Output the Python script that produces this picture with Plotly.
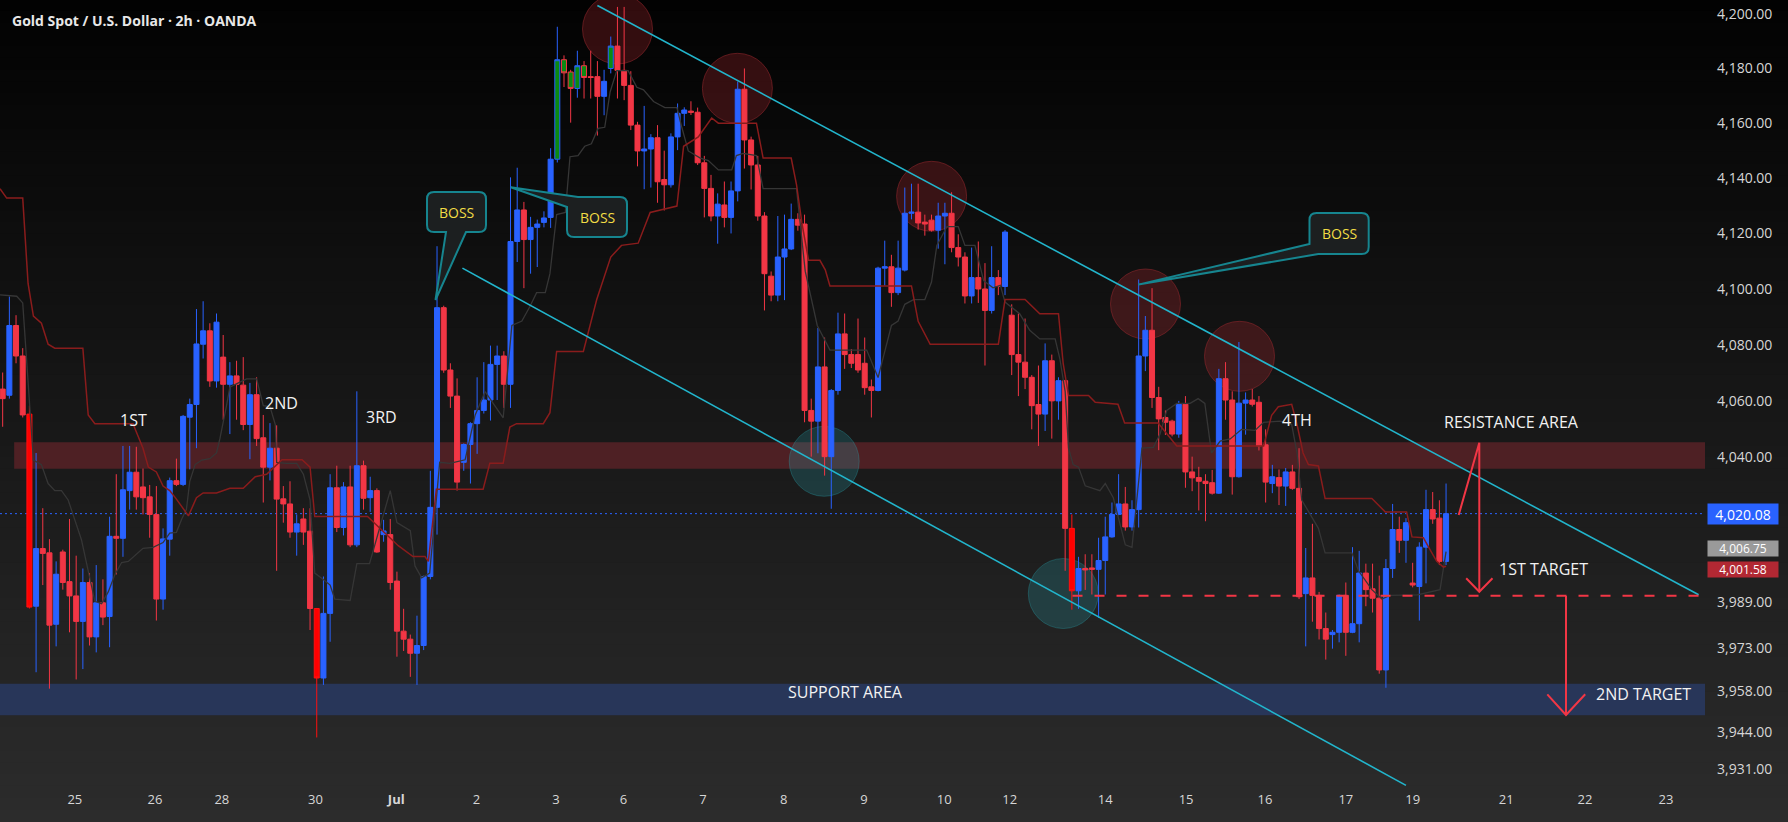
import math
import plotly.graph_objects as go

# ---------------- data ----------------
opens = [4064.2, 4062.0, 4086.9, 4076.0, 4055.3, 3987.6, 4007.8, 4006.3, 3981.3, 4006.6,
         3996.2, 3991.2, 3982.3, 3995.9, 3976.9, 3988.8, 3984.0, 4012.1, 4011.4, 4028.2,
         4034.7, 4029.5, 4026.0, 4019.8, 3990.1, 4011.1, 4031.7, 4030.4, 4054.2, 4058.7,
         4080.2, 4085.0, 4067.1, 4075.6, 4065.9, 4068.9, 4065.6, 4051.6, 4062.2, 4046.9,
         4036.5, 4043.2, 4025.3, 4023.5, 4013.6, 4018.2, 4013.9, 3986.8, 3962.6, 3985.1,
         4029.2, 4015.2, 4029.5, 4009.1, 4037.0, 4025.7, 4028.2, 4012.7, 4012.7, 3996.4,
         3978.9, 3976.1, 3971.2, 3973.9, 3998.0, 4022.3, 4093.3, 4071.0, 4061.7, 4038.2,
         4044.5, 4051.9, 4056.6, 4060.3, 4073.0, 4076.0, 4065.9, 4117.1, 4128.5, 4117.8,
         4122.2, 4124.0, 4125.8, 4146.9, 4183.2, 4178.7, 4172.7, 4181.0, 4177.0, 4177.0,
         4169.8, 4180.0, 4188.2, 4179.3, 4173.8, 4159.3, 4149.9, 4150.6, 4154.7, 4139.5,
         4137.6, 4155.0, 4163.6, 4164.4, 4164.0, 4145.6, 4136.3, 4126.3, 4130.3, 4125.8,
         4135.4, 4172.4, 4153.9, 4144.8, 4126.3, 4104.6, 4097.8, 4111.5, 4114.4, 4125.1,
         4123.4, 4056.6, 4052.8, 4072.1, 4040.2, 4063.7, 4083.9, 4076.5, 4076.5, 4073.4,
         4065.0, 4063.7, 4107.5, 4108.0, 4098.7, 4106.8, 4127.3, 4127.7, 4124.1, 4124.8,
         4121.2, 4126.3, 4127.3, 4114.9, 4111.5, 4097.5, 4104.1, 4100.0, 4092.3, 4104.1,
         4100.9, 4090.6, 4076.5, 4073.8, 4068.4, 4058.7, 4055.3, 4074.3, 4060.0, 4067.2,
         4014.9, 3993.0, 4000.8, 4001.0, 4000.5, 4003.6, 4011.9, 4019.8, 4023.5, 4015.4,
         4021.5, 4076.0, 4085.2, 4061.2, 4054.1, 4052.8, 4048.2, 4058.8, 4034.8, 4032.8,
         4031.5, 4031.0, 4027.3, 4067.9, 4060.3, 4033.1, 4059.2, 4060.3, 4059.5, 4044.4,
         4030.7, 4032.8, 4029.8, 4034.8, 4029.0, 3992.0, 3997.5, 3991.4, 3979.8, 3977.7,
         3978.5, 3991.4, 3978.5, 3981.5, 3999.2, 3993.7, 3990.4, 3965.4, 4000.8, 4014.5,
         4010.7, 3995.7, 3994.5, 4008.3, 4021.5, 4018.5, 4003.3]
highs = [4070.1, 4097.3, 4090.6, 4078.8, 4058.3, 4041.5, 4022.0, 4011.1, 4003.3, 4007.4,
         4018.2, 4005.3, 4000.8, 3999.2, 4002.0, 3997.0, 4019.0, 4034.0, 4044.0, 4044.0,
         4043.7, 4036.0, 4030.2, 4029.8, 4014.9, 4032.8, 4039.5, 4055.0, 4060.8, 4092.8,
         4095.6, 4087.7, 4091.2, 4083.5, 4073.8, 4074.3, 4075.6, 4066.4, 4068.4, 4055.0,
         4052.1, 4051.3, 4029.8, 4031.5, 4019.8, 4022.0, 4022.0, 3987.0, 3998.0, 4034.0,
         4037.0, 4031.2, 4037.0, 4063.4, 4038.8, 4033.1, 4029.0, 4017.9, 4018.2, 3999.7,
         3986.7, 3977.7, 3984.3, 3998.3, 4035.2, 4115.4, 4094.0, 4073.4, 4068.0, 4044.9,
         4052.4, 4068.4, 4073.8, 4079.7, 4079.7, 4077.7, 4140.3, 4143.8, 4131.4, 4126.0,
         4125.0, 4128.0, 4150.9, 4195.3, 4184.8, 4179.5, 4186.5, 4182.7, 4186.5, 4182.7,
         4179.5, 4191.7, 4202.6, 4202.6, 4179.0, 4160.5, 4166.3, 4156.0, 4159.3, 4150.0,
         4156.3, 4167.2, 4165.8, 4168.0, 4165.7, 4148.1, 4141.2, 4134.5, 4138.8, 4138.8,
         4175.2, 4180.0, 4155.1, 4148.1, 4127.7, 4106.3, 4126.3, 4126.8, 4130.8, 4127.3,
         4126.8, 4060.8, 4086.0, 4082.6, 4064.2, 4091.5, 4091.2, 4078.5, 4089.4, 4082.6,
         4067.6, 4108.0, 4117.4, 4112.3, 4117.4, 4136.6, 4138.0, 4138.0, 4126.8, 4126.8,
         4131.1, 4131.1, 4134.9, 4119.7, 4113.2, 4114.9, 4117.1, 4109.3, 4115.4, 4106.8,
         4121.2, 4094.5, 4091.2, 4089.4, 4069.2, 4072.6, 4080.5, 4076.5, 4068.4, 4067.5,
         4019.8, 4004.9, 4005.8, 4005.8, 4011.6, 4019.0, 4024.0, 4034.0, 4029.5, 4024.8,
         4103.4, 4090.3, 4100.3, 4065.0, 4056.6, 4053.3, 4060.0, 4061.7, 4040.2, 4036.6,
         4034.0, 4035.5, 4071.4, 4073.8, 4063.4, 4081.0, 4063.0, 4064.2, 4061.7, 4049.9,
         4037.3, 4035.7, 4036.2, 4037.3, 4043.2, 4008.0, 4016.5, 3992.6, 3985.4, 3979.3,
         3991.7, 3995.9, 4008.3, 4007.0, 4002.5, 4002.5, 3998.3, 4004.1, 4023.5, 4019.0,
         4018.5, 4002.8, 4010.0, 4028.5, 4027.7, 4024.8, 4030.7]
lows = [4050.8, 4060.8, 4073.4, 4054.1, 3986.8, 3964.6, 3995.0, 3958.9, 3973.6, 3993.4,
        3978.5, 3962.1, 3965.7, 3973.9, 3971.5, 3981.0, 3973.3, 3998.7, 4004.9, 4021.5,
        4021.5, 4019.8, 4011.6, 3982.6, 3986.4, 4005.3, 4029.8, 4029.8, 4035.7, 4043.2,
        4075.1, 4065.0, 4064.7, 4053.3, 4048.2, 4053.3, 4049.6, 4039.3, 4044.0, 4024.0,
        4031.8, 4000.0, 4016.9, 4011.6, 4005.3, 4009.1, 3979.3, 3942.0, 3960.2, 3975.2,
        4013.6, 4012.4, 4008.3, 4008.3, 4021.5, 4020.7, 4006.3, 4010.2, 3993.4, 3970.0,
        3972.0, 3963.0, 3960.2, 3972.3, 3997.0, 4012.7, 4070.0, 4057.5, 4028.2, 4035.2,
        4030.7, 4041.2, 4055.5, 4053.0, 4060.3, 4057.5, 4057.5, 4109.7, 4100.3, 4105.5,
        4107.9, 4122.2, 4122.0, 4145.7, 4173.2, 4160.2, 4169.3, 4169.0, 4169.0, 4155.5,
        4162.9, 4178.2, 4169.0, 4168.4, 4157.5, 4144.3, 4136.0, 4136.6, 4131.1, 4128.3,
        4136.6, 4150.2, 4159.0, 4163.0, 4144.8, 4125.8, 4124.4, 4116.3, 4122.2, 4120.0,
        4131.6, 4143.5, 4135.9, 4124.6, 4092.3, 4095.6, 4095.6, 4096.0, 4114.0, 4121.0,
        4052.4, 4040.2, 4041.4, 4033.5, 4021.8, 4062.2, 4071.4, 4071.7, 4070.0, 4062.2,
        4054.1, 4063.4, 4101.2, 4093.6, 4097.8, 4106.3, 4125.1, 4121.4, 4119.2, 4120.7,
        4114.5, 4108.9, 4113.2, 4108.1, 4094.8, 4094.8, 4095.0, 4072.6, 4091.2, 4097.8,
        4097.8, 4069.2, 4061.7, 4064.2, 4049.9, 4044.0, 4049.3, 4046.6, 4053.3, 4000.0,
        3986.4, 3986.7, 3993.3, 3991.7, 3983.5, 3991.7, 4011.6, 4019.5, 4014.1, 4014.1,
        4015.2, 4070.6, 4057.5, 4042.5, 4047.9, 4047.4, 4046.9, 4029.2, 4028.0, 4021.2,
        4017.4, 4026.8, 4027.0, 4053.3, 4026.8, 4032.8, 4048.0, 4058.0, 4042.4, 4024.0,
        4027.3, 4023.1, 4022.8, 4028.5, 3990.1, 3973.6, 3982.2, 3976.0, 3969.0, 3972.8,
        3975.0, 3970.3, 3978.2, 3975.0, 3987.6, 3985.4, 3964.1, 3959.2, 3997.5, 4006.3,
        4002.8, 3994.2, 3982.6, 3995.6, 4016.5, 4002.0, 4002.0]
closes = [4060.8, 4086.9, 4076.0, 4055.0, 3987.3, 4007.8, 4006.1, 3981.0, 3998.8, 3995.9,
          3991.2, 3982.3, 3995.9, 3976.9, 3988.8, 3983.8, 4012.1, 4011.4, 4028.5, 4034.7,
          4026.0, 4025.7, 4019.8, 3990.1, 4011.2, 4031.7, 4030.4, 4054.5, 4058.7, 4080.3,
          4085.0, 4067.1, 4088.1, 4065.9, 4068.9, 4065.9, 4051.6, 4062.2, 4046.6, 4036.5,
          4043.2, 4025.2, 4023.5, 4013.6, 4016.5, 4013.6, 3986.8, 3962.6, 3985.1, 4029.2,
          4015.2, 4029.5, 4009.1, 4037.0, 4025.5, 4028.2, 4006.6, 4014.0, 3995.9, 3978.9,
          3976.1, 3971.2, 3973.9, 3998.0, 4022.3, 4093.3, 4071.0, 4061.7, 4031.2, 4044.5,
          4051.9, 4056.6, 4060.3, 4073.0, 4076.0, 4065.9, 4117.1, 4128.5, 4117.8, 4122.2,
          4123.4, 4125.6, 4146.9, 4183.2, 4178.4, 4172.7, 4181.0, 4176.7, 4176.7, 4169.8,
          4175.3, 4188.2, 4179.3, 4173.8, 4159.3, 4149.9, 4150.6, 4154.7, 4138.7, 4137.6,
          4155.0, 4163.6, 4164.8, 4164.0, 4145.6, 4136.3, 4126.3, 4130.6, 4125.8, 4135.4,
          4172.4, 4153.9, 4144.8, 4126.3, 4105.5, 4097.8, 4111.5, 4114.4, 4125.1, 4123.0,
          4056.6, 4052.8, 4072.1, 4040.2, 4063.7, 4083.9, 4076.5, 4073.4, 4071.0, 4064.7,
          4063.7, 4107.5, 4108.0, 4098.7, 4107.5, 4127.3, 4127.7, 4123.8, 4123.4, 4121.2,
          4126.3, 4127.3, 4114.9, 4111.5, 4097.5, 4104.1, 4100.0, 4092.3, 4104.1, 4100.9,
          4120.5, 4076.5, 4073.8, 4068.4, 4058.3, 4055.3, 4074.3, 4060.0, 4067.2, 4014.9,
          3993.0, 4000.8, 4000.3, 4000.5, 4003.6, 4011.9, 4019.8, 4023.5, 4015.4, 4021.5,
          4076.0, 4085.2, 4061.2, 4053.6, 4052.4, 4048.2, 4058.8, 4034.8, 4032.7, 4031.5,
          4030.7, 4027.3, 4067.9, 4060.3, 4033.1, 4059.2, 4060.3, 4058.8, 4044.0, 4031.2,
          4033.1, 4029.8, 4034.8, 4029.0, 3990.9, 3997.5, 3991.4, 3979.8, 3976.1, 3978.5,
          3991.4, 3978.5, 3981.5, 3999.2, 3993.4, 3990.4, 3965.4, 4000.8, 4014.5, 4010.7,
          4016.9, 3995.0, 4008.3, 4021.5, 4018.2, 4003.3, 4020.08]

# bars painted differently by the chart's bar-colour indicator
bright_red_bars = [4, 47, 160]
green_up_bars = [83, 86, 91]
green_down_bars = [84, 85, 87]

# step indicator lines (bar index, price) read at their break points
base_idx = [-0.4, 0.6, 3.0, 3.8, 4.6, 5.8, 6.8, 7.8, 12.0, 12.8, 13.8, 19.5, 21.0, 21.8, 23.0,
            24.0, 25.0, 26.0, 27.8, 29.0, 30.0, 32.0, 34.0, 36.0, 37.8, 39.5, 41.8, 44.8, 46.0,
            46.7, 54.6, 59.2, 61.4, 63.2, 63.7, 64.9, 71.9, 72.9, 74.9, 75.9, 76.9, 80.9, 81.9,
            82.9, 86.9, 88.9, 91.0, 92.6, 95.1, 96.9, 100.9, 101.9, 104.1, 106.1, 107.1, 112.8,
            113.8, 118.0, 118.8, 119.6, 120.6, 122.3, 123.1, 123.8, 136.0, 137.0, 138.8, 149.0,
            150.0, 153.0, 155.2, 158.0, 158.7, 159.2, 159.5, 162.5, 163.5, 166.9, 167.9, 172.9,
            175.7, 188.7, 189.9, 190.9, 192.9, 193.7, 194.6, 195.4, 196.9, 197.9, 204.9, 206.9,
            210.1, 210.9, 212.6, 213.6, 214.6, 215.6, 216.0]
base_val = [4136.2, 4132.8, 4132.8, 4102.0, 4090.3, 4087.7, 4080.2, 4078.8, 4078.8, 4055.0,
            4051.9, 4051.9, 4043.2, 4036.5, 4034.8, 4029.8, 4028.2, 4025.2, 4019.3, 4025.7,
            4027.4, 4027.4, 4029.0, 4029.0, 4033.1, 4034.0, 4039.1, 4039.1, 4036.5, 4019.1,
            4019.1, 4008.8, 4005.0, 4005.0, 4003.3, 4028.7, 4028.7, 4037.9, 4037.9, 4050.7,
            4051.9, 4051.9, 4055.8, 4077.6, 4077.6, 4096.2, 4111.5, 4115.7, 4116.5, 4127.6,
            4129.9, 4151.6, 4155.0, 4161.9, 4160.0, 4160.0, 4147.3, 4147.3, 4137.6, 4123.8,
            4110.3, 4110.3, 4106.9, 4101.1, 4101.1, 4088.4, 4080.2, 4080.2, 4096.2, 4096.2,
            4091.1, 4091.1, 4073.4, 4066.7, 4061.9, 4061.9, 4059.5, 4058.8, 4052.1, 4052.1,
            4044.0, 4044.0, 4054.9, 4057.9, 4058.8, 4051.6, 4041.5, 4037.4, 4036.9, 4025.4,
            4025.4, 4020.7, 4020.7, 4011.9, 4011.6, 4007.4, 4003.3, 4001.3, 4001.58]
conv_idx = [-0.4, 2.1, 3.0, 4.6, 5.8, 6.8, 7.8, 8.8, 9.8, 10.8, 11.8, 12.8, 13.8, 14.8, 15.8,
            16.8, 17.8, 18.8, 19.8, 21.0, 22.5, 24.0, 25.0, 26.0, 26.8, 27.5, 28.0, 28.8, 29.8,
            31.0, 32.0, 32.5, 33.5, 34.0, 35.5, 36.5, 38.0, 39.0, 40.0, 40.8, 41.0, 42.5, 44.0,
            45.0, 46.0, 46.7, 47.7, 49.0, 49.7, 52.0, 53.0, 54.9, 58.0, 59.0, 61.0, 61.7, 62.7,
            63.9, 65.4, 66.9, 69.2, 70.7, 72.2, 74.9, 76.2, 77.7, 78.9, 79.9, 81.2, 81.9, 82.9,
            84.2, 84.9, 86.1, 87.1, 88.1, 89.1, 90.1, 90.9, 91.9, 93.6, 94.9, 95.9, 97.4, 99.1,
            100.9, 101.6, 102.6, 104.4, 105.6, 107.1, 109.1, 109.8, 110.8, 112.8, 113.8, 118.8,
            119.3, 120.1, 121.9, 123.8, 129.3, 131.0, 133.0, 134.0, 135.0, 136.3, 138.0, 139.0,
            139.8, 141.3, 143.0, 144.0, 145.5, 146.8, 148.2, 149.3, 150.0, 152.2, 153.7, 155.2,
            157.5, 158.2, 159.0, 159.5, 160.2, 161.0, 162.0, 164.2, 165.0, 166.2, 168.0, 169.0,
            170.5, 172.2, 173.2, 174.2, 175.7, 177.7, 178.9, 179.9, 180.9, 182.2, 183.7, 185.4,
            187.4, 188.7, 191.2, 192.9, 193.7, 194.4, 196.9, 197.9, 201.9, 202.9, 204.9, 206.4,
            207.6, 211.7, 215.1, 216.0]
conv_val = [4097.9, 4097.4, 4095.0, 4039.0, 4037.4, 4030.7, 4028.2, 4028.2, 4024.9, 4018.2,
            4010.8, 4000.0, 3989.3, 3988.5, 3992.6, 3998.7, 4002.9, 4003.3, 4005.3, 4007.9,
            4008.2, 4009.9, 4013.2, 4013.5, 4018.2, 4021.6, 4031.5, 4037.4, 4039.0, 4039.5,
            4041.5, 4046.5, 4058.3, 4064.9, 4066.7, 4067.8, 4067.8, 4058.3, 4058.0, 4051.6,
            4038.2, 4037.8, 4037.8, 4034.0, 4024.9, 3999.2, 3997.5, 3995.0, 3990.1, 3989.6,
            4002.5, 4002.5, 4028.2, 4016.9, 4014.1, 4001.7, 3997.5, 3999.2, 4038.2, 4037.8,
            4039.1, 4054.9, 4063.3, 4054.0, 4086.9, 4088.5, 4093.7, 4098.7, 4098.7, 4105.5,
            4126.8, 4127.6, 4147.8, 4148.2, 4151.6, 4152.5, 4158.1, 4158.5, 4171.4, 4179.2,
            4179.2, 4173.1, 4172.2, 4167.9, 4165.7, 4165.7, 4158.8, 4149.9, 4147.3, 4146.4,
            4143.0, 4143.0, 4148.2, 4149.0, 4148.2, 4136.2, 4136.2, 4124.2, 4106.4, 4086.9,
            4078.1, 4078.1, 4068.3, 4086.9, 4088.5, 4094.5, 4096.2, 4096.2, 4102.5, 4115.7,
            4122.5, 4122.5, 4115.7, 4115.7, 4103.0, 4100.4, 4101.3, 4095.3, 4091.1, 4085.2,
            4082.1, 4082.1, 4075.1, 4063.3, 4043.2, 4037.4, 4036.5, 4029.9, 4028.2, 4030.7,
            4025.7, 4009.1, 4008.2, 4043.2, 4043.5, 4048.2, 4056.6, 4059.1, 4059.1, 4060.8,
            4059.1, 4041.5, 4045.7, 4046.5, 4049.9, 4049.5, 4052.4, 4052.8, 4051.6, 4041.5,
            4024.9, 4014.9, 4006.3, 4006.3, 4000.0, 3993.4, 3990.1, 3991.4, 3991.6, 3993.4,
            4006.75]

date_tick_pos = [10.8, 22.8, 32.8, 46.8, 58.9, 70.9, 82.8, 92.9, 104.8, 116.9, 128.9,
                 140.9, 150.7, 165.0, 177.1, 188.9, 201.0, 211.0, 225.0, 236.8, 248.9]
date_tick_text = ["25", "26", "28", "30", "<b>Jul</b>", "2", "3", "6", "7", "8", "9",
                  "10", "12", "14", "15", "16", "17", "19", "21", "22", "23"]
price_ticks = [4200, 4180, 4160, 4140, 4120, 4100, 4080, 4060, 4040,
               3989, 3973, 3958, 3944, 3931]

last_price = 4020.08
conv_last = 4006.75
base_last = 4001.58
resistance_zone = [4035.9, 4045.3]
support_zone = [3949.7, 3960.6]
first_target = 3991.3
upper_channel = [(89.0, 4203.1), (253.8, 3991.6)]
lower_channel = [(68.8, 4107.5), (210.0, 3925.5)]

# ---------------- geometry ----------------
FIG_W, FIG_H = 1788, 822
M_L, M_R, M_T, M_B = 0, 83, 0, 32
PLOT_W = FIG_W - M_L - M_R
PLOT_H = FIG_H - M_T - M_B
X_RANGE = [-0.4, 254.75]
P_TOP, P_BOT = 4205.15, 3923.9
Y_RANGE = [math.log10(P_BOT), math.log10(P_TOP)]


def xp(i):
    return (i - X_RANGE[0]) / (X_RANGE[1] - X_RANGE[0])


def yp(p):
    return (math.log10(p) - Y_RANGE[0]) / (Y_RANGE[1] - Y_RANGE[0])


def hx(px):
    return px / PLOT_W


def vy(py):
    return 1 - py / PLOT_H


def P(x, y):
    return f"{hx(x):.6f},{vy(y):.6f}"


BLUE = "#2962ff"
RED = "#f23645"
FONT = "Open Sans"

fig = go.Figure()

# ---------------- candles ----------------
special = set(bright_red_bars + green_up_bars + green_down_bars)
normal_bars = [i for i in range(len(closes)) if i not in special]


def candle(ids, inc_line, inc_fill, dec_line, dec_fill):
    return go.Candlestick(
        x=ids,
        open=[opens[i] for i in ids], high=[highs[i] for i in ids],
        low=[lows[i] for i in ids], close=[closes[i] for i in ids],
        increasing=dict(line=dict(color=inc_line, width=1), fillcolor=inc_fill),
        decreasing=dict(line=dict(color=dec_line, width=1), fillcolor=dec_fill),
        whiskerwidth=0, hoverinfo="skip", showlegend=False)


fig.add_trace(candle(normal_bars, BLUE, BLUE, RED, RED))
fig.add_trace(candle(bright_red_bars, BLUE, BLUE, "#ff1010", "#ff0000"))
fig.add_trace(candle(green_up_bars, BLUE, "#0b8a12", RED, "#0b8a12"))
fig.add_trace(candle(green_down_bars, BLUE, "#0b8a12", RED, "#0b8a12"))

# indicator lines
fig.add_trace(go.Scatter(x=conv_idx, y=conv_val, mode="lines",
                         line=dict(color="#363636", width=1.3), hoverinfo="skip"))
fig.add_trace(go.Scatter(x=base_idx, y=base_val, mode="lines",
                         line=dict(color="#8a1c1c", width=1.5), hoverinfo="skip"))

shapes = []

# gradient background across the whole canvas
NB = 70
for k in range(NB):
    t = (k + 0.5) / NB
    c = int(round(2 + (44 - 2) * t))
    top_px = k * FIG_H / NB - 1
    bot_px = (k + 1) * FIG_H / NB + 1
    shapes.append(dict(type="rect", xref="paper", yref="paper", layer="below",
                       x0=0, x1=FIG_W / PLOT_W, y0=vy(bot_px), y1=vy(top_px),
                       fillcolor=f"rgb({c},{c},{c})", line=dict(width=0)))

# zones
shapes.append(dict(type="rect", xref="paper", yref="paper", layer="below",
                   x0=xp(1.72), x1=1, y0=yp(resistance_zone[0]), y1=yp(resistance_zone[1]),
                   fillcolor="#4e2024", line=dict(width=0)))
shapes.append(dict(type="rect", xref="paper", yref="paper", layer="below",
                   x0=0, x1=1, y0=yp(support_zone[0]), y1=yp(support_zone[1]),
                   fillcolor="#283659", line=dict(width=0)))

# highlight circles (pixel centres)
R = 35
for cx, cy in [(617.5, 29), (737.4, 88.3), (931.6, 196.3), (1145.5, 304), (1239.5, 356.3)]:
    shapes.append(dict(type="circle", xref="paper", yref="paper", layer="below",
                       x0=hx(cx - R), x1=hx(cx + R), y0=vy(cy + R), y1=vy(cy - R),
                       fillcolor="rgba(175,40,45,0.28)",
                       line=dict(color="rgba(150,40,45,0.55)", width=1)))
for cx, cy in [(824.2, 461.3), (1063.3, 593.5)]:
    shapes.append(dict(type="circle", xref="paper", yref="paper", layer="below",
                       x0=hx(cx - R), x1=hx(cx + R), y0=vy(cy + R), y1=vy(cy - R),
                       fillcolor="rgba(40,170,180,0.22)",
                       line=dict(color="rgba(40,170,180,0.3)", width=1)))

# last-price dotted line
shapes.append(dict(type="line", xref="paper", yref="paper", layer="below",
                   x0=0, x1=1, y0=yp(last_price), y1=yp(last_price),
                   line=dict(color=BLUE, width=1, dash="2px,3px")))

# channel lines
for (i0, p0), (i1, p1) in [upper_channel, lower_channel]:
    shapes.append(dict(type="line", xref="paper", yref="paper", layer="above",
                       x0=xp(i0), y0=yp(p0), x1=xp(i1), y1=yp(p1),
                       line=dict(color="#22b5cc", width=1.6)))

# first target dashed line
shapes.append(dict(type="line", xref="paper", yref="paper", layer="above",
                   x0=xp(160.1), x1=xp(253.9), y0=yp(first_target), y1=yp(first_target),
                   line=dict(color=RED, width=2, dash="10px,12px")))

# arrows
arrow_paths = [
    f"M{P(1458.7, 515)} L{P(1479.3, 442.7)} L{P(1479.3, 591.7)}",
    f"M{P(1466.2, 578.3)} L{P(1479.3, 591.7)} L{P(1492.5, 578.3)}",
    f"M{P(1566, 596)} L{P(1566, 715)}",
    f"M{P(1547.3, 694.3)} L{P(1566, 715)} L{P(1585.2, 694.3)}",
]
for pth in arrow_paths:
    shapes.append(dict(type="path", xref="paper", yref="paper", layer="above", path=pth,
                       fillcolor="rgba(0,0,0,0)", line=dict(color=RED, width=2)))

# BOSS callouts
r = 7
x0, x1, y0, y1 = 427, 486, 192, 232
callA = (f"M{P(x0 + r, y0)} L{P(x1 - r, y0)} Q{P(x1, y0)} {P(x1, y0 + r)} L{P(x1, y1 - r)} "
         f"Q{P(x1, y1)} {P(x1 - r, y1)} L{P(466, y1)} L{P(435.5, 300)} L{P(446, y1)} "
         f"L{P(x0 + r, y1)} Q{P(x0, y1)} {P(x0, y1 - r)} L{P(x0, y0 + r)} Q{P(x0, y0)} {P(x0 + r, y0)} Z")
x0, x1, y0, y1 = 567, 627, 197, 237
callB = (f"M{P(578, y0)} L{P(x1 - r, y0)} Q{P(x1, y0)} {P(x1, y0 + r)} L{P(x1, y1 - r)} "
         f"Q{P(x1, y1)} {P(x1 - r, y1)} L{P(x0 + r, y1)} Q{P(x0, y1)} {P(x0, y1 - r)} "
         f"L{P(x0, 207)} L{P(510.7, 187.3)} Z")
x0, x1, y0, y1 = 1309.5, 1368.7, 213, 254
callC = (f"M{P(x0 + r, y0)} L{P(x1 - r, y0)} Q{P(x1, y0)} {P(x1, y0 + r)} L{P(x1, y1 - r)} "
         f"Q{P(x1, y1)} {P(x1 - r, y1)} L{P(1318.3, y1)} L{P(1138.3, 284.6)} L{P(x0, 244)} "
         f"L{P(x0, y0 + r)} Q{P(x0, y0)} {P(x0 + r, y0)} Z")
for pth in [callA, callB, callC]:
    shapes.append(dict(type="path", xref="paper", yref="paper", layer="above", path=pth,
                       fillcolor="#1c1f20", line=dict(color="#16858f", width=2)))

# ---------------- text ----------------
annotations = []


def label(text, cx, cy, size=16, color="#f2f2f2", anchor="center"):
    annotations.append(dict(text=text, x=hx(cx), y=vy(cy), xref="paper", yref="paper",
                            xanchor=anchor, yanchor="middle", showarrow=False,
                            font=dict(family=FONT, size=size, color=color)))


label("<b>Gold Spot / U.S. Dollar · 2h · OANDA</b>", 10, 20.7, size=14, color="#e8e8e8", anchor="left")
label("1ST", 133, 420.5)
label("2ND", 281.7, 403)
label("3RD", 381, 417)
label("4TH", 1297, 420.5)
label("RESISTANCE AREA", 1511, 421.7)
label("1ST TARGET", 1543, 569)
label("2ND TARGET", 1643.5, 693.7)
label("SUPPORT AREA", 845, 692)
label("BOSS", 456.5, 212, size=14, color="#f2dc45")
label("BOSS", 597, 217, size=14, color="#f2dc45")
label("BOSS", 1339, 233.5, size=14, color="#f2dc45")


def price_tag(value, bg, size, height, shift_px=0):
    annotations.append(dict(text=f"{value:,.2f}", x=hx(1707),
                            y=yp(value) - shift_px / PLOT_H, xref="paper",
                            yref="paper", xanchor="left", yanchor="middle", showarrow=False,
                            bgcolor=bg, width=70, height=height, borderpad=0,
                            font=dict(family=FONT, size=size, color="#ffffff")))


price_tag(last_price, BLUE, 14, 20)
price_tag(conv_last, "#9a9a9a", 12, 15, shift_px=-3)
price_tag(base_last, "#b22833", 12, 15, shift_px=3)

fig.update_layout(
    width=FIG_W, height=FIG_H,
    margin=dict(l=M_L, r=M_R, t=M_T, b=M_B, pad=0),
    paper_bgcolor="#161616", plot_bgcolor="rgba(0,0,0,0)",
    showlegend=False, boxgap=0.25, boxgroupgap=0,
    shapes=shapes, annotations=annotations,
    xaxis=dict(range=X_RANGE, rangeslider=dict(visible=False), showgrid=False,
               zeroline=False, showline=False, ticks="", tickvals=date_tick_pos,
               ticktext=date_tick_text, tickfont=dict(family=FONT, size=13, color="#d6d6d6"),
               fixedrange=True),
    yaxis=dict(type="log", side="right", range=Y_RANGE, showgrid=False, zeroline=False,
               showline=False, ticks="", tickvals=price_ticks,
               ticktext=[f"{v:,.2f}" for v in price_ticks], ticklabelstandoff=11,
               tickfont=dict(family=FONT, size=14, color="#d6d6d6"), fixedrange=True),
)

fig.write_html("out.html")
